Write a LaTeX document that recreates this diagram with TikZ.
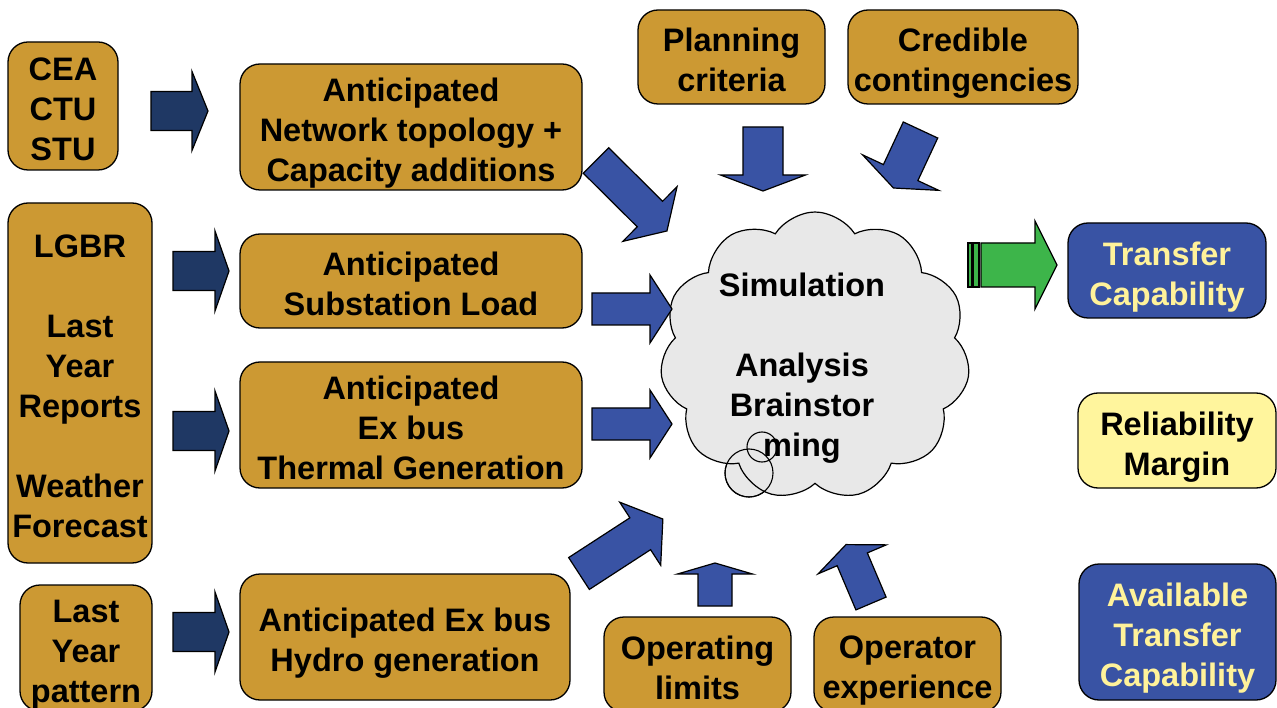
\documentclass[tikz,border=0pt]{standalone}
\usepackage{fontspec}
\setmainfont{Liberation Sans}
\usetikzlibrary{shapes.symbols}

\definecolor{gold}{HTML}{CC9933}
\definecolor{navy}{HTML}{1F3864}
\definecolor{midblue}{HTML}{3953A4}
\definecolor{leaf}{HTML}{3DB54A}
\definecolor{paleyellow}{HTML}{FFF59D}
\definecolor{textyellow}{HTML}{FFF29A}
\definecolor{cloudgrey}{HTML}{E8E8E8}

% block arrow: #1 fill, #2 tail centre, #3 direction (deg), #4 length,
% #5 shaft half width, #6 head half width, #7 head length
\newcommand\blockarrow[7]{%
  \begin{scope}[shift={#2}, rotate=#3]
    \draw[fill=#1, line width=1.2pt, line join=miter]
      (0,-#5) -- ({#4-#7},-#5) -- ({#4-#7},-#6) -- (#4,0)
      -- ({#4-#7},#6) -- ({#4-#7},#5) -- (0,#5) -- cycle;
  \end{scope}}

% fixed last-line depth, so every text block sits the same way
\newcommand\lastdepth{\rule[-8pt]{0pt}{8pt}}

\tikzset{
  bigtext/.style={align=center, inner sep=0pt,
    font=\bfseries\fontsize{32.5}{40}\selectfont,
    execute at end node=\lastdepth},
  card/.style={draw=black, line width=1.3pt, rounded corners=20pt, inner sep=0pt},
  goldbox/.style={card, fill=gold},
  bluebox/.style={card, fill=midblue},
  palebox/.style={card, fill=paleyellow},
  words/.style={label={[bigtext, yshift=-7pt]center:{#1}}},
  ywords/.style={label={[bigtext, text=textyellow, yshift=-7pt]center:{#1}}},
}

\begin{document}
\begin{tikzpicture}[x=1pt,y=-1pt]
\useasboundingbox (0,0) rectangle (1277,708);

% source boxes on the left
\node[goldbox, minimum width=110pt, minimum height=128pt,
  words={CEA\\CTU\\STU}] (cea) at (63,106) {};
\node[goldbox, minimum width=144pt, minimum height=360pt,
  words={LGBR\\\mbox{}\\Last\\Year\\Reports\\\mbox{}\\Weather\\Forecast}] (lgbr) at (80,383) {};
\node[goldbox, minimum width=132pt, minimum height=126pt,
  words={Last\\Year\\pattern}] (lastyr) at (86,648) {};

% anticipated quantities
\node[goldbox, minimum width=342pt, minimum height=126pt,
  words={Anticipated\\Network topology +\\Capacity additions}] (topo) at (411,127) {};
\node[goldbox, minimum width=342pt, minimum height=94pt,
  words={Anticipated\\Substation Load}] (subst) at (411,281) {};
\node[goldbox, minimum width=342pt, minimum height=126pt,
  words={Anticipated\\Ex bus\\Thermal Generation}] (thermal) at (411,425) {};
\node[goldbox, minimum width=330pt, minimum height=126pt,
  words={Anticipated Ex bus\\Hydro generation}] (hydro) at (405,637) {};

% top and bottom inputs
\node[goldbox, minimum width=187pt, minimum height=94pt,
  words={Planning\\criteria}] (plan) at (731.5,57) {};
\node[goldbox, minimum width=230pt, minimum height=94pt,
  words={Credible\\contingencies}] (cred) at (963,57) {};
\node[goldbox, minimum width=187pt, minimum height=95pt,
  words={Operating\\limits}] (oplim) at (697.5,664.5) {};
\node[goldbox, minimum width=187pt, minimum height=95pt,
  words={Operator\\experience}] (opexp) at (907.5,664.5) {};

% results on the right
\node[bluebox, minimum width=198pt, minimum height=95pt,
  ywords={Transfer\\Capability}] (tc) at (1167,270.5) {};
\node[palebox, minimum width=198pt, minimum height=95pt,
  words={Reliability\\Margin}] (rm) at (1177,440.5) {};
\node[bluebox, minimum width=197pt, minimum height=136pt,
  ywords={Available\\Transfer\\Capability}] (atc) at (1177.5,632) {};

% thought cloud
\fill[cloudgrey, draw=black, line width=1.1pt] (749,473) circle (24);
\fill[cloudgrey, draw=black, line width=1.1pt] (762,447) circle (15);
\node[cloud, cloud puffs=11, cloud puff arc=115, cloud ignores aspect,
  minimum width=310pt, minimum height=288pt, draw=black, fill=cloudgrey,
  line width=1.2pt, inner sep=0pt] (cloud) at (815,356) {};
\draw[line width=1.1pt] (749,473) circle (24);
\draw[line width=1.1pt] (762,447) circle (15);
\node[bigtext] (think) at (802,369)
  {Simulation\\\mbox{}\\Analysis\\Brainstor\\ming};

% dark arrows from sources to anticipated quantities
\blockarrow{navy}{(151,111)}{0}{57}{19.5}{39.5}{16}
\blockarrow{navy}{(173,271)}{0}{56}{19.5}{40}{14}
\blockarrow{navy}{(173,431)}{0}{56}{19.5}{40}{14}
\blockarrow{navy}{(173,632)}{0}{56}{19.5}{40}{14}

% arrows into the cloud
\blockarrow{midblue}{(596,160.5)}{-44.8}{100}{18}{38.5}{24}
\blockarrow{midblue}{(592,309)}{0}{80}{16}{34}{22}
\blockarrow{midblue}{(592,424)}{0}{80}{16}{34}{22}
\blockarrow{midblue}{(579,573.5)}{33}{100}{19}{37.6}{27}
\blockarrow{midblue}{(763,127)}{-90}{64}{20}{42.5}{16}
\blockarrow{midblue}{(920.5,130)}{-115}{64}{19}{42}{17}
\blockarrow{midblue}{(715,606)}{90}{43}{17}{37.5}{11}
\blockarrow{midblue}{(871,603.5)}{113}{64}{16.4}{37}{16}

% output arrow
\draw[fill=leaf, line width=1.1pt] (968,243) rectangle (972,287);
\draw[fill=leaf, line width=1.1pt] (973,243) rectangle (979,287);
\blockarrow{leaf}{(981,265)}{0}{76}{22}{44}{22}
\end{tikzpicture}
\end{document}
